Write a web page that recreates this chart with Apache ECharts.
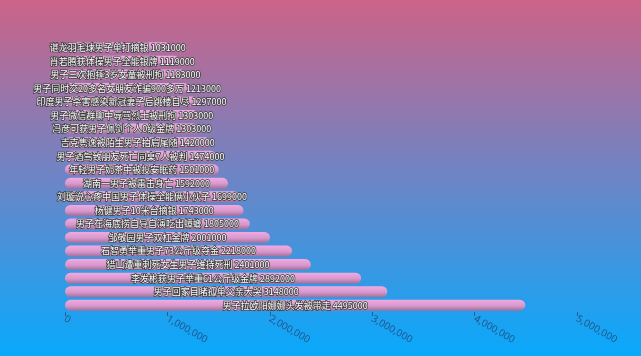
<!DOCTYPE html>
<html>
<head>
<meta charset="utf-8">
<script src="https://cdn.jsdelivr.net/npm/echarts@6/dist/echarts.min.js"></script>
<style>html,body{margin:0;padding:0;}#c{width:641px;height:356px;}</style>
</head>
<body>
<div id="c"></div>
<script>
var categories = [
  "男子拉欧阳娜娜头发被带走",
  "男子回家目睹孤单父亲大哭",
  "李发彬获男子举重61公斤级金牌",
  "猎山遭重刺死女生男子维持死刑",
  "石智勇举重男子73公斤级夺金",
  "邹敬园男子双杠金牌",
  "男子在海底捞自导自演吃出蟑螂",
  "杨健男子10米台摘银",
  "刘璇说心疼中国男子体操全能俩小伙子",
  "湖南一男子被雷击身亡",
  "年轻男子奶茶中被投安眠药",
  "男子酒驾致朋友死亡同桌7人被判",
  "吉克隽逸被陌生男子拍肩尾随",
  "冯彦可获男子佩剑个人0级金牌",
  "男子微信群聊中辱骂烈士被刑拘",
  "印度男子杀害感染新冠妻子后跳楼自尽",
  "男子同时交20多名女朋友诈骗900多万",
  "男子三次抱摔3岁女童被刑拘",
  "肖若腾获体操男子全能银牌",
  "谌龙羽毛球男子单打摘银"
];
var values = [4495000, 3148000, 2892000, 2401000, 2218000, 2001000, 1805000, 1743000, 1699000, 1592000,
  1501000, 1474000, 1420000, 1303000, 1303000, 1297000, 1213000, 1183000, 1119000, 1031000];
var xTicks = [0, 1000000, 2000000, 3000000, 4000000, 5000000];

var chart = echarts.init(document.getElementById('c'));
chart.setOption({
  backgroundColor: new echarts.graphic.LinearGradient(0, 0, 0, 1, [
    {offset: 0, color: '#cc6388'},
    {offset: 0.5, color: '#6d85c6'},
    {offset: 1, color: '#08a9fc'}
  ]),
  grid: {left: 65, right: 64, top: 41, bottom: 44, containLabel: false},
  xAxis: {
    type: 'value',
    min: xTicks[0],
    max: xTicks[xTicks.length - 1],
    interval: 1000000,
    splitLine: {show: false},
    axisLine: {show: false},
    axisTick: {show: true, length: 4, lineStyle: {color: '#2a5a88'}},
    axisLabel: {
      rotate: -30,
      color: '#1f578a',
      fontSize: 10,
      margin: 6,
      fontFamily: 'Noto Sans',
      formatter: function (v) { return v.toString().replace(/\B(?=(\d{3})+(?!\d))/g, ','); }
    }
  },
  yAxis: {
    type: 'category',
    data: categories,
    show: false
  },
  series: [{
    type: 'bar',
    data: values,
    barWidth: 11,
    itemStyle: {
      borderRadius: 5.5,
      color: new echarts.graphic.LinearGradient(0, 0, 0, 1, [
        {offset: 0, color: '#f0aae2'},
        {offset: 0.55, color: '#d898cc'},
        {offset: 1, color: '#a06f9c'}
      ])
    },
    label: {
      show: true,
      position: 'inside',
      formatter: '{b} {c}',
      color: '#ffffff',
      fontSize: 9,
      fontFamily: 'Noto Sans CJK SC',
      textBorderColor: '#3a3a3a',
      textBorderWidth: 1.5
    }
  }]
});
</script>
</body>
</html>
